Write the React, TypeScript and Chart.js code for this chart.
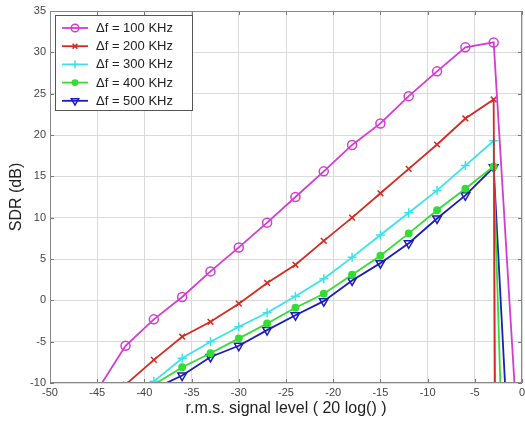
import React, { useEffect, useRef } from "react";
import { Chart, registerables } from "chart.js";
import { drawPoint } from "chart.js/helpers";

Chart.register(...registerables);

const xTicksMin = -50;
const xTicksMax = 0;
const yTicksMin = -10;
const yTicksMax = 35;

const labels = ["\u0394f = 100 KHz", "\u0394f = 200 KHz", "\u0394f = 300 KHz", "\u0394f = 400 KHz", "\u0394f = 500 KHz"];

const x100 = [-45, -42, -39, -36, -33, -30, -27, -24, -21, -18, -15, -12, -9, -6, -3, -0.5];
const y100 = [-10.9, -5.5, -2.3, 0.4, 3.5, 6.4, 9.4, 12.5, 15.6, 18.8, 21.4, 24.7, 27.7, 30.6, 31.2, -15.6];

const x200 = [-42, -39, -36, -33, -30, -27, -24, -21, -18, -15, -12, -9, -6, -3, -2.85];
const y200 = [-10.2, -7.2, -4.4, -2.6, -0.4, 2.1, 4.3, 7.2, 10.0, 12.95, 15.9, 18.85, 22.0, 24.3, -15];

const x300 = [-42, -39, -36, -33, -30, -27, -24, -21, -18, -15, -12, -9, -6, -3, -2.9];
const y300 = [-12, -9.8, -7.0, -5.0, -3.2, -1.5, 0.5, 2.6, 5.2, 7.9, 10.6, 13.3, 16.3, 19.3, -15];

const x400 = [-39, -36, -33, -30, -27, -24, -21, -18, -15, -12, -9, -6, -3, -2];
const y400 = [-10.2, -8.1, -6.4, -4.6, -2.8, -0.9, 0.8, 3.1, 5.4, 8.1, 10.9, 13.5, 16.2, -21];

const x500 = [-39, -36, -33, -30, -27, -24, -21, -18, -15, -12, -9, -6, -3, -1.5];
const y500 = [-10.7, -9.1, -6.85, -5.5, -3.6, -1.8, -0.1, 2.4, 4.5, 6.9, 9.9, 12.7, 16.1, -16.5];

const FONT = 'Arial, "Liberation Sans", Helvetica, sans-serif';

function pts(xs: number[], ys: number[]) {
  return xs.map((x, i) => ({ x, y: ys[i] }));
}

const innerTicks = {
  id: "innerTicks",
  afterDraw(chart: any) {
    const { ctx, chartArea: a, scales } = chart;
    ctx.save();
    ctx.strokeStyle = "#777";
    ctx.lineWidth = 1;
    ctx.beginPath();
    for (const t of scales.x.ticks) {
      const px = Math.round(scales.x.getPixelForValue(t.value)) + 0.5;
      ctx.moveTo(px, a.bottom);
      ctx.lineTo(px, a.bottom - 4);
      ctx.moveTo(px, a.top);
      ctx.lineTo(px, a.top + 4);
    }
    for (const t of scales.y.ticks) {
      const py = Math.round(scales.y.getPixelForValue(t.value)) + 0.5;
      ctx.moveTo(a.left, py);
      ctx.lineTo(a.left + 4, py);
      ctx.moveTo(a.right, py);
      ctx.lineTo(a.right - 4, py);
    }
    ctx.stroke();
    ctx.strokeStyle = "#888";
    ctx.strokeRect(a.left + 0.5, a.top + 0.5, a.right - a.left - 1, a.bottom - a.top - 1);
    ctx.restore();
  },
};

const boxLegend = {
  id: "boxLegend",
  afterDatasetsDraw(chart: any) {
    const { ctx, chartArea: a } = chart;
    const x0 = a.left + 5;
    const y0 = a.top + 4;
    const w = 138;
    const h = 96;
    ctx.save();
    ctx.fillStyle = "#ffffff";
    ctx.fillRect(x0, y0, w, h);
    ctx.strokeStyle = "#555";
    ctx.lineWidth = 1;
    ctx.strokeRect(x0 + 0.5, y0 + 0.5, w - 1, h - 1);
    chart.data.datasets.forEach((ds: any, i: number) => {
      const cy = y0 + 13 + i * 18.2;
      ctx.strokeStyle = ds.borderColor;
      ctx.lineWidth = 1.8;
      ctx.beginPath();
      ctx.moveTo(x0 + 7, cy);
      ctx.lineTo(x0 + 33, cy);
      ctx.stroke();
      ctx.fillStyle = ds.pointBackgroundColor;
      ctx.strokeStyle = ds.pointBorderColor;
      ctx.lineWidth = ds.pointBorderWidth;
      drawPoint(ctx, { pointStyle: ds.pointStyle, radius: ds.pointRadius * 0.85, rotation: ds.pointRotation || 0, borderWidth: ds.pointBorderWidth }, x0 + 20, cy);
      ctx.fillStyle = "#222";
      ctx.font = "13px " + FONT;
      ctx.textBaseline = "middle";
      ctx.textAlign = "left";
      ctx.fillText(ds.label, x0 + 41, cy + 0.5);
    });
    ctx.restore();
  },
};

function mk(label: string, data: any[], color: string, style: string, radius: number, fill: boolean, rotation = 0) {
  return {
    label,
    data,
    borderColor: color,
    backgroundColor: color,
    borderWidth: 1.8,
    pointStyle: style,
    pointRadius: radius,
    pointRotation: rotation,
    pointBorderColor: color,
    pointBackgroundColor: fill ? color : "rgba(255,255,255,0)",
    pointBorderWidth: 1.5,
    showLine: true,
    tension: 0,
  };
}

export default function App() {
  const ref = useRef<HTMLCanvasElement | null>(null);
  useEffect(() => {
    document.body.style.margin = "0";
    const canvas = ref.current!;
    const chart = new Chart(canvas, {
      type: "line",
      data: {
        datasets: [
          mk(labels[0], pts(x100, y100), "#d23cd2", "circle", 4.5, false),
          mk(labels[1], pts(x200, y200), "#d42a22", "crossRot", 4, false),
          mk(labels[2], pts(x300, y300), "#38e4ea", "cross", 4.5, false),
          mk(labels[3], pts(x400, y400), "#33dd33", "circle", 3.2, true),
          mk(labels[4], pts(x500, y500), "#1c1cb8", "triangle", 5, false, 180),
        ] as any,
      },
      options: {
        animation: false,
        responsive: false,
        layout: { autoPadding: false, padding: { top: 11, right: 3, left: 0, bottom: 0 } },
        plugins: { legend: { display: false }, tooltip: { enabled: false } },
        scales: {
          x: {
            type: "linear",
            min: xTicksMin,
            max: xTicksMax,
            ticks: { stepSize: 5, color: "#444", font: { family: FONT, size: 11 }, padding: 3, maxRotation: 0 },
            grid: { color: "#dadada", drawTicks: false },
            border: { display: false },
            title: { display: true, text: "r.m.s. signal level ( 20 log() )", color: "#222", font: { family: FONT, size: 16 }, padding: { top: 0, bottom: 5 } },
            afterFit(s: any) { s.height = 40; s.paddingRight = 0; s.paddingLeft = 0; },
          },
          y: {
            type: "linear",
            min: yTicksMin,
            max: yTicksMax,
            ticks: { stepSize: 5, color: "#444", font: { family: FONT, size: 11 }, padding: 4 },
            grid: { color: "#dadada", drawTicks: false },
            border: { display: false },
            title: { display: true, text: "SDR (dB)", color: "#222", font: { family: FONT, size: 16 }, padding: { top: 7, bottom: 0 } },
            afterFit(s: any) { s.width = 50; s.paddingTop = 0; s.paddingBottom = 0; },
          },
        },
      } as any,
      plugins: [innerTicks, boxLegend],
    });
    return () => chart.destroy();
  }, []);
  return <canvas ref={ref} width={525} height={423} style={{ display: "block", width: 525, height: 423 }} />;
}
